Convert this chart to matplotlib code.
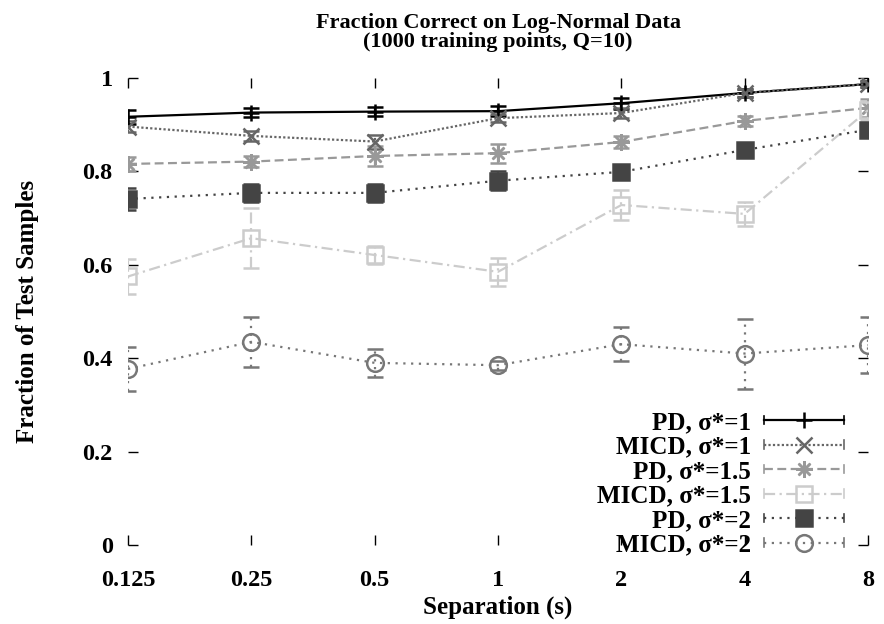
import numpy as np
import matplotlib
matplotlib.use("Agg")
import matplotlib.pyplot as plt
from matplotlib.legend_handler import HandlerLine2D
from matplotlib.lines import Line2D

# separation values (x axis, log2 spaced)
sep = [0.125, 0.25, 0.5, 1, 2, 4, 8]
sep_labels = ["0.125", "0.25", "0.5", "1", "2", "4", "8"]
y_ticks = [0, 0.2, 0.4, 0.6, 0.8, 1]
y_labels = ["0", "0.2", "0.4", "0.6", "0.8", "1"]

# fraction correct and error (half-width) per classifier / sigma
pd_s1 = [0.917, 0.926, 0.928, 0.929, 0.946, 0.968, 0.987]
pd_s1_err = [0.015, 0.010, 0.010, 0.010, 0.012, 0.008, 0.006]
micd_s1 = [0.896, 0.876, 0.864, 0.914, 0.925, 0.968, 0.987]
micd_s1_err = [0.012, 0.010, 0.015, 0.008, 0.010, 0.008, 0.006]
pd_s15 = [0.816, 0.821, 0.833, 0.839, 0.863, 0.908, 0.936]
pd_s15_err = [0.015, 0.012, 0.022, 0.020, 0.012, 0.010, 0.020]
micd_s15 = [0.575, 0.657, 0.621, 0.585, 0.728, 0.709, 0.931]
micd_s15_err = [0.038, 0.064, 0.020, 0.030, 0.032, 0.025, 0.020]
pd_s2 = [0.741, 0.754, 0.754, 0.780, 0.799, 0.846, 0.889]
pd_s2_err = [0.023, 0.020, 0.020, 0.020, 0.012, 0.010, 0.010]
micd_s2 = [0.377, 0.435, 0.390, 0.385, 0.430, 0.410, 0.428]
micd_s2_err = [0.048, 0.054, 0.030, 0.010, 0.036, 0.075, 0.060]

series = [
    ("PD, σ*=1", pd_s1, pd_s1_err, "black", "-", "+", "black"),
    ("MICD, σ*=1", micd_s1, micd_s1_err, "#666666", (0, (1, 1)), "x", "#666666"),
    ("PD, σ*=1.5", pd_s15, pd_s15_err, "#999999", (0, (4, 2)), (8, 2, 0), "#999999"),
    ("MICD, σ*=1.5", micd_s15, micd_s15_err, "#cccccc", (0, (5, 2, 1, 2)), "s", "none"),
    ("PD, σ*=2", pd_s2, pd_s2_err, "#444444", (0, (1, 2.5)), "s", "#444444"),
    ("MICD, σ*=2", micd_s2, micd_s2_err, "#777777", (0, (1, 2.5)), "o", "none"),
]


class HandlerCapped(HandlerLine2D):
    """Legend sample drawn as a line with small end caps and a centred marker."""

    def create_artists(self, legend, orig_handle, xdescent, ydescent,
                       width, height, fontsize, trans):
        artists = super().create_artists(legend, orig_handle, xdescent, ydescent,
                                         width, height, fontsize, trans)
        y0 = height / 2 - ydescent
        for x in (-xdescent, -xdescent + width):
            cap = Line2D([x, x], [y0 - 3, y0 + 3], color=orig_handle.get_color(),
                         linewidth=1.2, transform=trans)
            artists.append(cap)
        return artists


plt.rcParams["font.family"] = ["Liberation Serif", "DejaVu Serif"]
plt.rcParams["font.weight"] = "bold"

fig = plt.figure(figsize=(8.84, 6.24), dpi=100)
ax = fig.add_axes([0.1448, 0.1266, 0.8371, 0.7484])

handles = []
for label, vals, errs, color, ls, marker, face in series:
    line, caps, bars = ax.errorbar(sep, vals, yerr=errs, color=color, linestyle=ls,
                                   linewidth=1.6, marker=marker, markersize=12,
                                   markerfacecolor=face, markeredgecolor=color,
                                   markeredgewidth=1.8, capsize=6, capthick=1.0,
                                   elinewidth=1.6)
    for b in bars:
        b.set_linestyle(ls)
    h = Line2D([], [], color=color, linestyle=ls, linewidth=1.6, marker=marker,
               markersize=12, markerfacecolor=face, markeredgecolor=color,
               markeredgewidth=1.8)
    handles.append((h, label))

ax.set_xscale("log", base=2)
ax.set_xlim(0.125, 8)
ax.set_ylim(0, 1)
ax.set_xticks(sep)
ax.set_xticklabels(sep_labels)
ax.minorticks_off()
ax.set_yticks(y_ticks)
ax.set_yticklabels(y_labels)

for s in ax.spines.values():
    s.set_visible(False)
ax.tick_params(direction="in", length=7, width=1, top=True, right=True,
               labelsize=17.5)
ax.tick_params(axis="x", pad=18)
ax.tick_params(axis="y", pad=11)

ax.set_title("Fraction Correct on Log-Normal Data\n(1000 training points, Q=10)",
             fontsize=16, fontweight="bold", pad=22, linespacing=0.95)
ax.set_xlabel("Separation (s)", fontsize=18, fontweight="bold", labelpad=3)
ax.set_ylabel("Fraction of Test Samples", fontsize=18, fontweight="bold", labelpad=31)

leg = ax.legend([h for h, _ in handles], [l for _, l in handles],
                handler_map={Line2D: HandlerCapped()},
                loc="lower right", bbox_to_anchor=(0.984, -0.051),
                frameon=False, markerfirst=False, fontsize=18,
                handlelength=3.2, handletextpad=0.5, labelspacing=0.06,
                borderpad=0)

fig.savefig("out.png", dpi=100)
